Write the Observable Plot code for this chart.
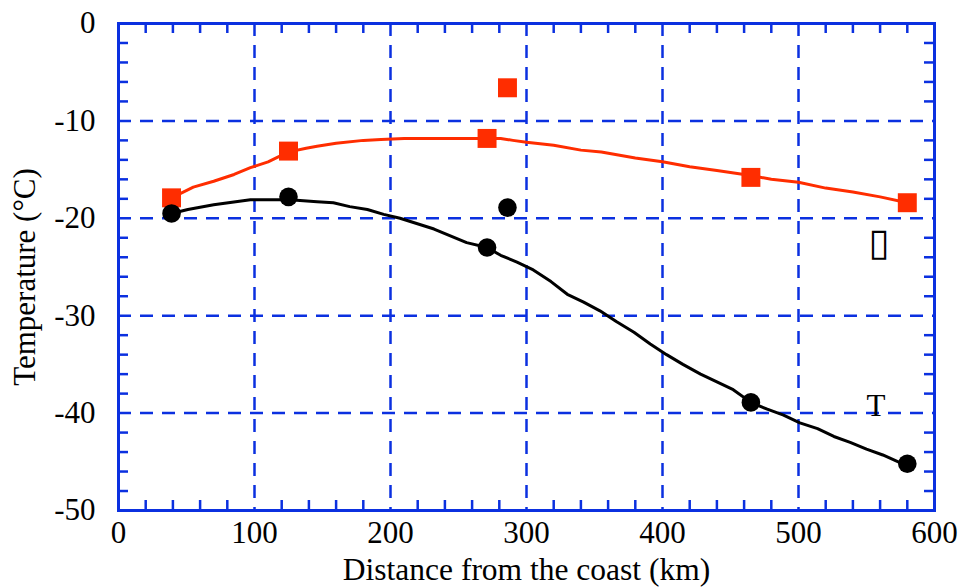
<!DOCTYPE html>
<html><head><meta charset="utf-8">
<script src="https://cdn.jsdelivr.net/npm/d3@7"></script>
<script src="https://cdn.jsdelivr.net/npm/@observablehq/plot@0.6"></script>
<style>html,body{margin:0;padding:0;background:#fff;overflow:hidden}
svg text{font-family:'Liberation Serif','Times New Roman','DejaVu Serif',serif !important;}</style>
</head><body><div id="chart"></div>
<script>
// tick labels & grid
const xTicks = [0, 100, 200, 300, 400, 500, 600];
const yTicks = [0, -10, -20, -30, -40, -50];
const xGrid = [100, 200, 300, 400, 500];
const yGrid = [-10, -20, -30, -40];
const xMinor = [20, 40, 60, 80, 120, 140, 160, 180, 220, 240, 260, 280, 320, 340, 360, 380, 420, 440, 460, 480, 520, 540, 560, 580];
const yMinor = [-2, -4, -6, -8, -12, -14, -16, -18, -22, -24, -26, -28, -32, -34, -36, -38, -42, -44, -46, -48];

// observed stations
const stationDist = [39, 125, 271, 286, 465, 580];
const stationRed = [-17.9, -13.1, -11.8, -6.6, -15.8, -18.4];
const stationBlack = [-19.5, -17.8, -23.0, -18.9, -38.9, -45.2];

// red curve
const redDist = [39, 45, 55, 70, 85, 97, 110, 119, 128, 138, 146, 160, 180, 193, 210, 240, 270, 281, 290, 300, 320, 340, 355, 380, 400, 420, 440, 465, 480, 500, 520, 540, 560, 580];
const redTemp = [-17.9, -17.5, -16.8, -16.2, -15.5, -14.8, -14.2, -13.6, -13.1, -12.8, -12.6, -12.3, -12.0, -11.9, -11.8, -11.8, -11.8, -11.8, -12.0, -12.2, -12.5, -13.0, -13.2, -13.8, -14.2, -14.7, -15.1, -15.6, -16.0, -16.3, -16.9, -17.3, -17.8, -18.4];

// black curve
const blackDist = [39, 51, 70, 97, 126, 146, 158, 170, 183, 195, 207, 232, 256, 271, 281, 293, 305, 318, 330, 342, 354, 366, 379, 391, 403, 415, 428, 440, 452, 465, 477, 489, 501, 514, 526, 538, 550, 562, 575, 580];
const blackTemp = [-19.5, -19.1, -18.6, -18.1, -18.1, -18.3, -18.4, -18.8, -19.1, -19.6, -20.0, -21.1, -22.5, -23.0, -23.8, -24.5, -25.3, -26.5, -27.8, -28.6, -29.5, -30.6, -31.7, -32.9, -34.0, -35.0, -36.0, -36.8, -37.6, -38.9, -39.6, -40.2, -41.0, -41.6, -42.4, -43.0, -43.7, -44.3, -45.1, -45.2];

// annotations
const noteText = ["\u25AF", "T"];
const noteDist = [559, 557];
const noteTemp = [-22.5, -39.3];

const xLabel = "Distance from the coast (km)";
const yLabel = "Temperature (\u00B0C)";

const BLUE = "#0b30e0";
const RED = "#ff2d00";
const FONT = "'Liberation Serif', 'Times New Roman', serif";

const red = redDist.map((d, i) => ({d, t: redTemp[i]}));
const black = blackDist.map((d, i) => ({d, t: blackTemp[i]}));
const stations = stationDist.map((d, i) => ({d, r: stationRed[i], b: stationBlack[i]}));
const notes = noteText.map((s, i) => ({s, d: noteDist[i], t: noteTemp[i]}));

const chart = Plot.plot({
  width: 959,
  height: 587,
  marginLeft: 118,
  marginRight: 25,
  marginTop: 23,
  marginBottom: 77,
  style: {fontFamily: FONT, background: "#fff"},
  x: {domain: [0, 600]},
  y: {domain: [-50, 0]},
  marks: [
    Plot.gridX(xGrid, {stroke: BLUE, strokeOpacity: 1, strokeWidth: 2.5, strokeDasharray: "13,9"}),
    Plot.gridY(yGrid, {stroke: BLUE, strokeOpacity: 1, strokeWidth: 2.5, strokeDasharray: "13,9"}),
    Plot.tickX(xMinor, {x: d => d, stroke: BLUE, strokeWidth: 2.5, insetTop: 477}),
    Plot.tickX(xMinor, {x: d => d, stroke: BLUE, strokeWidth: 2.5, insetBottom: 477}),
    Plot.tickY(yMinor, {y: d => d, stroke: BLUE, strokeWidth: 2.5, insetRight: 806}),
    Plot.tickY(yMinor, {y: d => d, stroke: BLUE, strokeWidth: 2.5, insetLeft: 806}),
    Plot.axisX(xTicks, {tickSize: 0, tickPadding: 10, fontSize: 31, fontFamily: FONT, fill: "#000", label: null, tickFormat: d => String(d)}),
    Plot.axisY(yTicks, {tickSize: 0, tickPadding: 23, fontSize: 31, fontFamily: FONT, fill: "#000", label: null, tickFormat: d => String(d)}),
    Plot.frame({stroke: BLUE, strokeWidth: 3}),
    Plot.line(red, {x: "d", y: "t", stroke: RED, strokeWidth: 3}),
    Plot.line(black, {x: "d", y: "t", stroke: "#000", strokeWidth: 3}),
    Plot.dot(stations, {x: "d", y: "r", symbol: "square", r: 10.7, fill: RED, stroke: null}),
    Plot.dot(stations, {x: "d", y: "b", symbol: "circle", r: 9.3, fill: "#000", stroke: null}),
    Plot.text(notes, {x: "d", y: "t", text: "s", fontSize: d => d.s === "T" ? 31 : 38, fontFamily: FONT, fill: "#000"}),
    Plot.text([xLabel], {frameAnchor: "bottom", dy: 69, fontSize: 31.5, fontFamily: FONT, fill: "#000"}),
    Plot.text([yLabel], {frameAnchor: "left", textAnchor: "middle", dx: -93, dy: 10, rotate: -90, fontSize: 31, fontFamily: FONT, fill: "#000"})
  ]
});
document.getElementById("chart").appendChild(chart);
</script>
</body></html>
